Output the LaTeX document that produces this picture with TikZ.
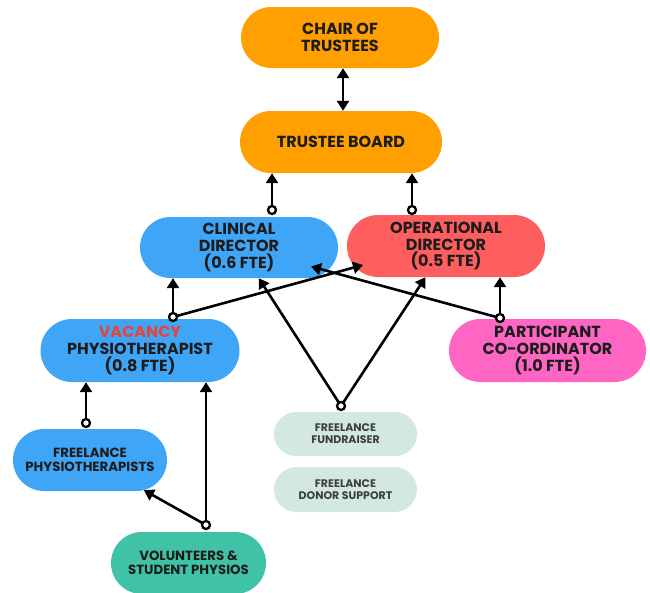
\documentclass[tikz,border=0pt]{standalone}
\usepackage{fontspec}
\setmainfont{Poppins}
\usetikzlibrary{arrows.meta,shapes.misc}
\definecolor{orng}{HTML}{FFA000}
\definecolor{blu}{HTML}{3FA6F7}
\definecolor{rd}{HTML}{FF5E5E}
\definecolor{pnk}{HTML}{FF66C4}
\definecolor{teal}{HTML}{3FC2A6}
\definecolor{pale}{HTML}{D4E8E3}
\definecolor{vac}{HTML}{E5443A}
\definecolor{txt}{HTML}{1C1C1C}
\begin{document}
\begin{tikzpicture}[x=1pt,y=-1pt,
  pill/.style={rounded rectangle, draw=none, inner sep=0pt, align=center, text=txt,
    font=\bfseries\fontsize{16}{16.7}\selectfont},
  small/.style={pill, font=\bfseries\fontsize{13.3}{13.8}\selectfont},
  tiny/.style={pill, text=txt!85, font=\bfseries\fontsize{11}{12}\selectfont},
  arr/.style={line width=2.6pt, draw=black, -{Triangle[length=10pt,width=12pt]}},
  dbl/.style={line width=2.6pt, draw=black, {Triangle[length=10pt,width=12pt]}-{Triangle[length=10pt,width=12pt]}},
  dot/.style={circle, draw=black, fill=white, line width=2.3pt, minimum size=8pt, inner sep=0pt}]
\useasboundingbox[fill=white] (0,0) rectangle (650,592);

\node[pill, fill=orng, minimum width=198pt, minimum height=61pt] (chair) at (340,37.5) {CHAIR OF\\TRUSTEES};
\node[pill, fill=orng, minimum width=202pt, minimum height=62pt] (board) at (341,142) {TRUSTEE BOARD};
\node[pill, fill=blu, minimum width=198pt, minimum height=61pt] (clin) at (239,247.5) {CLINICAL\\DIRECTOR\\(0.6 FTE)};
\node[pill, fill=rd, minimum width=198pt, minimum height=62pt] (oper) at (446,246) {OPERATIONAL\\DIRECTOR\\(0.5 FTE)};
\node[pill, fill=blu, minimum width=199pt, minimum height=63pt] (vacn) at (140,350.5) {\textcolor{vac}{VACANCY}\\PHYSIOTHERAPIST\\(0.8 FTE)};
\node[pill, fill=pnk, minimum width=197pt, minimum height=63pt] (part) at (547.5,350.5) {PARTICIPANT\\CO-ORDINATOR\\(1.0 FTE)};
\node[small, fill=blu, minimum width=154pt, minimum height=62pt] (fphys) at (90,460) {FREELANCE\\PHYSIOTHERAPISTS};
\node[tiny, fill=pale, minimum width=143pt, minimum height=44pt] (fund) at (345.5,434) {FREELANCE\\FUNDRAISER};
\node[tiny, fill=pale, minimum width=143pt, minimum height=45pt] (donor) at (345.5,489.5) {FREELANCE\\DONOR SUPPORT};
\node[small, fill=teal, minimum width=155pt, minimum height=62pt] (vol) at (188.5,563) {VOLUNTEERS \&\\STUDENT PHYSIOS};

\coordinate (cclin) at (272,210);
\coordinate (coper) at (412,210);
\coordinate (cvac) at (173,317);
\coordinate (cpart) at (500,318);
\coordinate (cfund) at (341,406);
\coordinate (cfp) at (86,423);
\coordinate (cvol) at (206,525);

\draw[dbl] ([xshift=3pt]chair.south) -- ([xshift=2pt]board.north);
\draw[arr] (cclin) -- (board.south -| cclin);
\draw[arr] (coper) -- (board.south -| coper);
\draw[arr] (cvac) -- (clin.south -| cvac);
\draw[arr] (cvac) -- ([shift={(-83,19)}]oper.center);
\draw[arr] (cpart) -- (oper.south -| cpart);
\draw[arr] (cpart) -- ([shift={(72,19)}]clin.center);
\draw[arr] (cfund) -- (clin);
\draw[arr] (cfund) -- (oper);
\draw[arr] (cfp) -- (vacn.south -| cfp);
\draw[arr] (cvol) -- (vacn.south -| cvol);
\draw[arr] (cvol) -- (fphys);

\foreach \c in {cclin,coper,cvac,cpart,cfund,cfp,cvol} \node[dot] (d\c) at (\c) {};
\end{tikzpicture}
\end{document}
